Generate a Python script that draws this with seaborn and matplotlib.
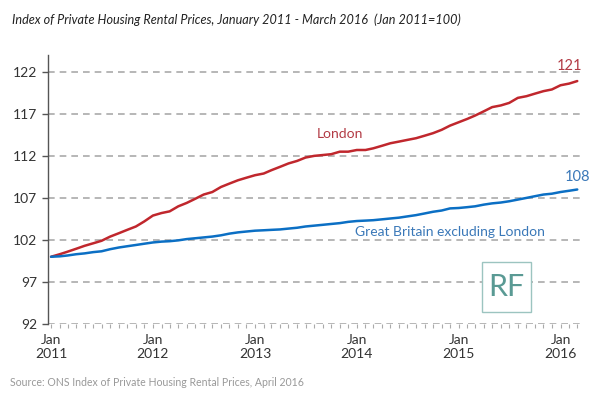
import matplotlib
matplotlib.use("Agg")
import matplotlib.pyplot as plt
import matplotlib.dates as mdates
from matplotlib.patches import Rectangle
import seaborn as sns
import pandas as pd

# monthly index, Jan 2011 = 100
months = pd.date_range("2011-01-01", periods=63, freq="MS")
london = [100.0, 100.3, 100.6, 100.95, 101.3, 101.6, 101.9, 102.4, 102.8, 103.2,
          103.6, 104.2, 104.9, 105.2, 105.4, 106.0, 106.4, 106.9, 107.4, 107.7,
          108.3, 108.7, 109.1, 109.4, 109.7, 109.9, 110.3, 110.7, 111.1, 111.4,
          111.8, 112.0, 112.1, 112.2, 112.5, 112.5, 112.7, 112.7, 112.9, 113.2,
          113.5, 113.7, 113.9, 114.1, 114.4, 114.7, 115.1, 115.6, 116.0, 116.4,
          116.8, 117.3, 117.8, 118.0, 118.3, 118.9, 119.1, 119.4, 119.7, 119.9,
          120.4, 120.6, 120.9]
gb_ex_london = [100.0, 100.05, 100.15, 100.3, 100.4, 100.55, 100.65, 100.9, 101.1, 101.25,
                101.4, 101.55, 101.7, 101.8, 101.85, 101.95, 102.1, 102.2, 102.3, 102.4,
                102.55, 102.75, 102.9, 103.0, 103.1, 103.15, 103.2, 103.25, 103.35, 103.45,
                103.6, 103.7, 103.8, 103.9, 104.0, 104.15, 104.25, 104.3, 104.35, 104.45,
                104.55, 104.65, 104.8, 104.95, 105.15, 105.35, 105.5, 105.75, 105.8, 105.9,
                106.0, 106.2, 106.35, 106.45, 106.6, 106.8, 107.0, 107.2, 107.4, 107.5,
                107.7, 107.85, 108.0]
yticks = [92, 97, 102, 107, 112, 117, 122]
year_ticks = pd.date_range("2011-01-01", "2016-01-01", freq="YS")

red = "#c0272d"
blue = "#0b6fc4"

sns.set_style("white")
plt.rcParams["font.family"] = ["Lato", "DejaVu Sans"]

df = pd.DataFrame({"month": list(months) * 2,
                   "index": london + gb_ex_london,
                   "series": ["London"] * 63 + ["Great Britain excluding London"] * 63})

fig = plt.figure(figsize=(6.05, 3.97), dpi=100)
ax = fig.add_axes([48 / 605, 73 / 397, 534 / 605, 269 / 397])
sns.lineplot(data=df, x="month", y="index", hue="series",
             palette={"London": red, "Great Britain excluding London": blue},
             linewidth=1.8, legend=False, ax=ax)

ax.set_ylim(92, 124)
ax.set_xlim(pd.Timestamp("2010-12-21"), pd.Timestamp("2016-03-18"))
ax.set_yticks(yticks)
ax.set_xticks(year_ticks)
ax.set_xticklabels(["Jan\n%d" % d.year for d in year_ticks])
ax.xaxis.set_minor_locator(mdates.MonthLocator())
for y in yticks:
    ax.axhline(y, color="#aaaaaa", linestyle=(0, (4, 3)), linewidth=1.2, zorder=0)

ax.set_xlabel("")
ax.set_ylabel("")
for s in ["top", "right", "bottom"]:
    ax.spines[s].set_visible(False)
ax.spines["left"].set_color("#555555")
ax.spines["left"].set_linewidth(1.0)
ax.tick_params(axis="y", left=True, length=4, width=1, color="#555555",
               labelsize=10, labelcolor="#333333", pad=4)
ax.tick_params(axis="x", which="major", bottom=True, length=3, width=0.8,
               color="#aaaaaa", labelsize=10, labelcolor="#333333", pad=4)
ax.tick_params(axis="x", which="minor", bottom=True, length=3, width=0.8, color="#aaaaaa")

# series labels
ax.text(months[34], 114.6, "London", color="#b23a44", fontsize=10, ha="center", va="center")
ax.text(months[47], 102.95, "Great Britain excluding London", color="#3a78b8",
        fontsize=10, ha="center", va="center")
ax.text(months[61], 122.7, "121", color="#b23a44", fontsize=10.5, ha="center", va="center")
ax.text(months[62], 109.5, "108", color="#3a78b8", fontsize=10.5, ha="center", va="center")

fig.text(12 / 605, 1 - 20 / 397,
         "Index of Private Housing Rental Prices, January 2011 - March 2016  (Jan 2011=100)",
         fontsize=9.1, style="italic", color="#222222", va="center", ha="left")
fig.text(10 / 605, 1 - 383 / 397, "Source: ONS Index of Private Housing Rental Prices, April 2016",
         fontsize=7.6, color="#999999", va="center", ha="left")

# RF logo box
fig.patches.append(Rectangle((482 / 605, 1 - 312 / 397), 49 / 605, 50 / 397,
                             transform=fig.transFigure, facecolor="white",
                             edgecolor="#9cc4c0", linewidth=1, zorder=5))
fig.text(506.5 / 605, 1 - 287 / 397, "RF", fontsize=22, color="#5a9a94",
         ha="center", va="center", zorder=6)

fig.savefig("out.png", dpi=100)
